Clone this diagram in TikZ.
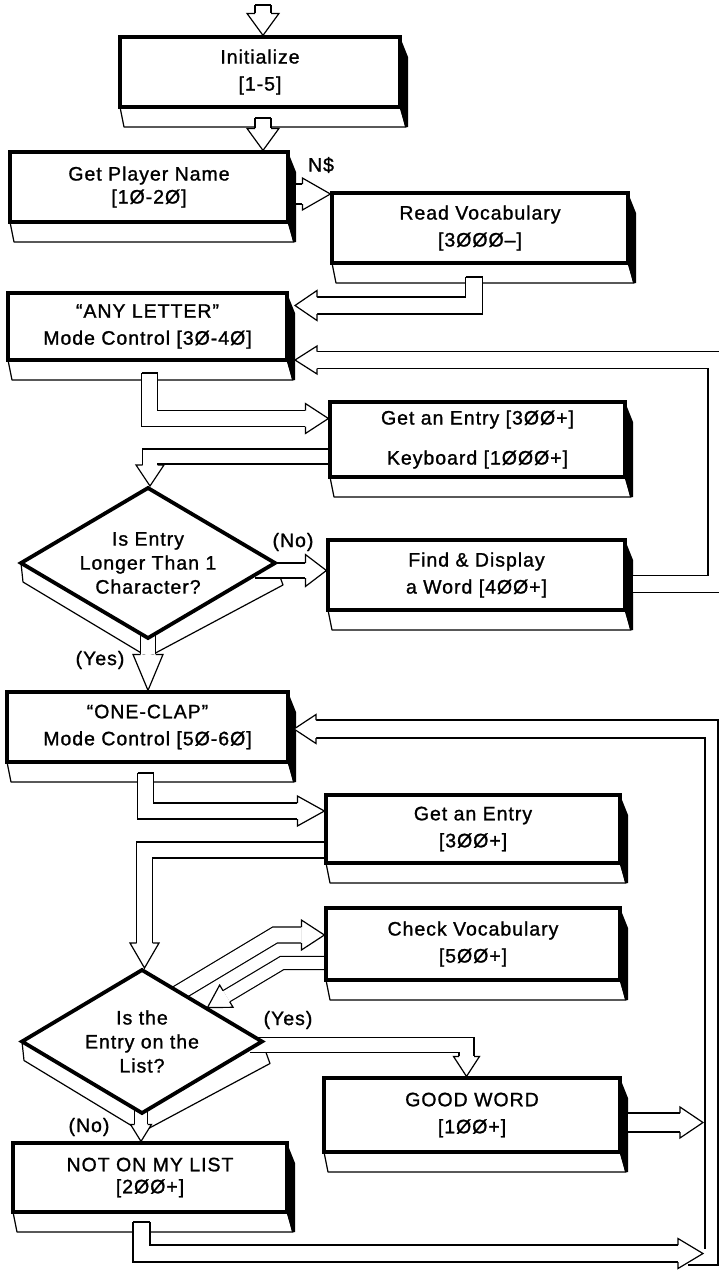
\documentclass[tikz,border=0pt]{standalone}
\usepackage{fontspec}
\setmainfont{Liberation Sans}[LetterSpace=5,FakeBold=1.2]
\usetikzlibrary{calc}
\pgfdeclarelayer{back}
\pgfdeclarelayer{mid}
\pgfsetlayers{back,mid,main}
\newcommand\bxfont{\fontsize{19.5}{27}\selectfont}
\newcommand\dmfont{\fontsize{19.5}{24}\selectfont}
\tikzset{
  face/.style={draw, line width=3.2, fill=white, align=center, inner sep=0pt, outer sep=0pt, font=\bxfont},
  slab/.style={fill=white, draw, line width=1.2, line join=round},
  dface/.style={fill=white, draw, line width=3.8, line join=miter},
  lbl/.style={font=\bxfont, inner sep=0pt},
  lnw/.style={line width=1.2},
  pics/head/.style n args={3}{code={\filldraw[fill=white, line width=1.2, line join=miter] (-#3,-#1) -- (-#3,-#2) -- (0,0) -- (-#3,#2) -- (-#3,#1);}},
}
\newcommand\mkbox[6]{%
  \node[face, minimum width={#4-#2}, minimum height={#5-#3}] (#1) at ({(#2+#4)/2},{(#3+#5)/2}) {#6};
  \draw[line width=4.8] (#1.south west) -- (#1.south east);
  \begin{pgfonlayer}{back}
    \draw[slab] (#1.south west) -- (#1.south east) -- ++(6,20) -- ($(#1.south west)+(4,20)$) -- cycle;
    \fill (#1.north east) -- ++(8,20) -- ($(#1.south east)+(8,20)$) -- ($(#1.south east)+(5,20)$) -- (#1.south east) -- cycle;
  \end{pgfonlayer}}
\newcommand\mkdiamond[6]{%
  \begin{pgfonlayer}{back}
    \draw[slab] (#2-#4,#3) -- (#2-#4+2,#3+19) -- (#2,#3+#5+19) -- (#2+#4+8,#3+22) -- (#2+#4,#3) -- (#2,#3+#5) -- cycle;
  \end{pgfonlayer}
  \draw[dface] (#2,#3-#5) -- (#2+#4,#3) -- (#2,#3+#5) -- (#2-#4,#3) -- cycle;
  \node[lbl, align=center, font=\dmfont] (#1) at (#2,#3) {#6};}
\newcommand\fatarrow[6]{%
  \pgfmathsetmacro\fatdd{2*#1-1.2}%
  \draw[line width=1.2, double=white, double distance=\fatdd pt, line join=miter] #4;
  \pic[rotate=#6] at #5 {head={#1}{#2}{#3}};}
\begin{document}
\begin{tikzpicture}[x=1pt, y=-1pt]
\useasboundingbox (0,0) rectangle (719,1270);
\mkbox{init}{120}{37}{400}{107}{Initialize\\{[1-5]}}
\mkbox{gpn}{10}{152}{288}{222}{Get Player Name\\[-4pt]{[1Ø-2Ø]}}
\mkbox{rv}{332}{193}{628}{263}{Read Vocabulary\\{[3ØØØ–]}}
\mkbox{al}{8}{293}{287}{360}{“ANY LETTER”\\Mode Control [3Ø-4Ø]}
\mkbox{ge1}{330}{402}{625}{477}{Get an Entry [3ØØ+]\\[13pt]Keyboard [1ØØØ+]}
\mkbox{fd}{328}{540}{625}{610}{Find \& Display\\a Word [4ØØ+]}
\mkbox{oc}{7}{692}{288}{762}{“ONE-CLAP”\\Mode Control [5Ø-6Ø]}
\mkbox{ge2}{326}{795}{620}{863}{Get an Entry\\{[3ØØ+]}}
\mkbox{cv}{326}{908}{620}{980}{Check Vocabulary\\{[5ØØ+]}}
\mkbox{gw}{324}{1078}{620}{1152}{GOOD WORD\\{[1ØØ+]}}
\mkbox{noml}{13}{1143}{287}{1212}{NOT ON MY LIST\\[-5pt]{[2ØØ+]}}
\mkdiamond{d1}{148}{563}{127}{75}{Is Entry\\Longer Than 1\\Character?}
\mkdiamond{d2}{142}{1041.5}{120}{71.5}{Is the\\Entry on the\\List?}
\node[lbl] (ns) at (321,165) {N\$};
\node[lbl] (no1) at (293,542) {(No)};
\node[lbl] (yes1) at (100,660) {(Yes)};
\node[lbl] (yes2) at (288,1020) {(Yes)};
\node[lbl] (no2) at (89,1127) {(No)};
\begin{pgfonlayer}{mid}
\draw[lnw] (316,720) -- (718,720) -- (718,1265) -- (688,1265);
\draw[lnw] (316,738) -- (705,738) -- (705,1249);
\pic[rotate=180] at (294,729) {head={9}{14.5}{22}};
\fatarrow{8}{16}{22}{(263,5) -- (263,13.4)}{(263,35.4)}{-90}
\draw[lnw] (255,5) -- (271,5);
\fatarrow{8}{16}{22}{(263,118) -- (263,128.4)}{(263,150.4)}{-90}
\draw[lnw] (255,118) -- (271,118);
\fatarrow{10}{16}{28}{(296,194) -- (302.4,194)}{(330.4,194)}{0}
\fatarrow{8.5}{15}{22}{(474,277) -- (474,305.5) -- (317,305.5)}{(295,305.5)}{180}
\draw[lnw] (465.5,277) -- (482.5,277);
\fatarrow{8}{15}{23}{(149.5,373) -- (149.5,418.5) -- (305.4,418.5)}{(328.4,418.5)}{0}
\draw[lnw] (141.5,373) -- (157.5,373);
\fatarrow{7.5}{14}{21}{(340,456.5) -- (150,456.5) -- (150,465)}{(150,486)}{-90}
\fatarrow{7.5}{16}{21}{(255,570.5) -- (305.4,570.5)}{(326.4,570.5)}{0}
\fatarrow{7.5}{15}{36}{(148,630) -- (148,654.4)}{(148,690.4)}{-90}
\fatarrow{8}{15}{27}{(145.5,773) -- (145.5,811) -- (297.4,811)}{(324.4,811)}{0}
\draw[lnw] (137.5,773) -- (153.5,773);
\fatarrow{8}{14.5}{25}{(336,850) -- (144.5,850) -- (144.5,943)}{(144.5,968)}{-90}
\fatarrow{8}{15}{23}{(165,1001) -- (275,935) -- (301.4,935)}{(324.4,935)}{0}
\fatarrow{6.5}{13}{22}{(336,963) -- (282,963) -- (226.4,996.2)}{(207.5,1007.5)}{211}
\fatarrow{7.5}{13}{20}{(250,1045) -- (466.5,1045) -- (466.5,1056.4)}{(466.5,1076.4)}{-90}
\fatarrow{6.5}{10.5}{17}{(141,1100) -- (141,1124.4)}{(141,1141.4)}{-90}
\fatarrow{8.5}{15}{25}{(141.5,1222) -- (141.5,1253.5) -- (678,1253.5)}{(703,1253.5)}{0}
\draw[lnw] (133,1222) -- (150,1222);
\fatarrow{9.5}{15.5}{23}{(628,1122.5) -- (680,1122.5)}{(703,1122.5)}{0}
\fatarrow{8.5}{14}{22}{(633,584) -- (716.5,584) -- (716.5,360) -- (317,360)}{(295,360)}{180}
\end{pgfonlayer}
\end{tikzpicture}
\end{document}
